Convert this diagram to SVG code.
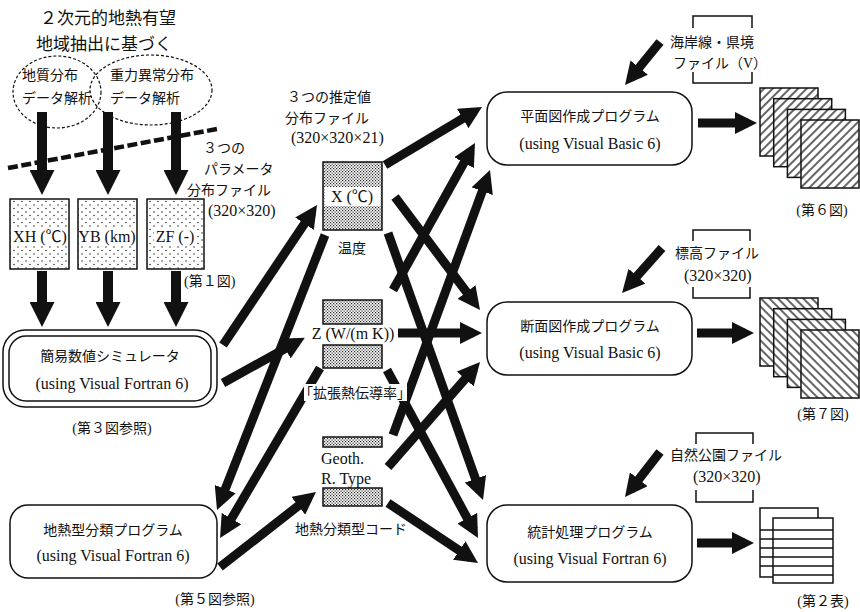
<svg xmlns="http://www.w3.org/2000/svg" width="860" height="612" viewBox="0 0 860 612">
<defs>
<style>
.t{font-family:"Liberation Serif","Noto Sans CJK JP",serif;font-size:14px;fill:#111}
.g{font-family:"Noto Sans CJK JP","Liberation Sans",sans-serif;font-size:17px;fill:#111}
.s{font-family:"Liberation Serif","Noto Sans CJK JP",serif;font-size:16px;fill:#111}
.m{text-anchor:middle}
.box{fill:#fff;stroke:#111;stroke-width:1.5}
.ar{stroke:#111;fill:none;marker-end:url(#ah)}
.a9{stroke-width:9}
.a10{stroke-width:10}
.dash{fill:none;stroke:#111;stroke-width:1.2;stroke-dasharray:3 2}
.br{fill:none;stroke:#111;stroke-width:1.5}
</style>
<marker id="ah" viewBox="0 0 10 10" refX="6" refY="5" markerWidth="2.5" markerHeight="2.5" orient="auto"><path d="M0,0L10,5L0,10z" fill="#111"/></marker>
<pattern id="sparse" width="8" height="7" patternUnits="userSpaceOnUse"><circle cx="2" cy="2" r="0.75" fill="#222"/><circle cx="6" cy="5.5" r="0.75" fill="#222"/></pattern>
<pattern id="dense" width="3" height="3" patternUnits="userSpaceOnUse"><rect width="1.2" height="1.2" fill="#222"/><rect x="1.5" y="1.5" width="1.2" height="1.2" fill="#222"/></pattern>
<pattern id="hatchF" width="6" height="6" patternUnits="userSpaceOnUse" patternTransform="rotate(45)"><rect width="6" height="6" fill="#fff"/><line x1="3" y1="0" x2="3" y2="6" stroke="#111" stroke-width="1.3"/></pattern>
<pattern id="hatchB" width="6" height="6" patternUnits="userSpaceOnUse" patternTransform="rotate(-45)"><rect width="6" height="6" fill="#fff"/><line x1="3" y1="0" x2="3" y2="6" stroke="#111" stroke-width="1.3"/></pattern>
</defs>
<rect width="860" height="612" fill="#fff"/>

<g id="source-analysis">
<text class="g m" x="108" y="24">２次元的地熱有望</text>
<text class="g m" x="104" y="50">地域抽出に基づく</text>
<ellipse class="dash" cx="57" cy="92" rx="44" ry="36"/>
<ellipse class="dash" cx="151" cy="90" rx="61" ry="35"/>
<text class="t" x="22" y="80">地質分布</text>
<text class="t" x="22" y="103">データ解析</text>
<text class="t" x="110" y="80">重力異常分布</text>
<text class="t" x="110" y="103">データ解析</text>
</g>

<g id="divider">
<line x1="8" y1="168" x2="217" y2="129" stroke="#111" stroke-width="4.5" stroke-dasharray="10 3.5"/>
</g>

<g id="connectors">
<line class="ar a10" x1="42" y1="112" x2="42" y2="185"/>
<line class="ar a10" x1="108" y1="112" x2="108" y2="185"/>
<line class="ar a10" x1="176" y1="112" x2="176" y2="185"/>
<line class="ar a10" x1="42" y1="271" x2="42" y2="317"/>
<line class="ar a10" x1="108" y1="271" x2="108" y2="317"/>
<line class="ar a10" x1="176" y1="271" x2="176" y2="317"/>
<line class="ar a9" x1="223" y1="345" x2="312" y2="212.5"/>
<line class="ar a9" x1="223" y1="383" x2="297" y2="342"/>
<line class="ar a9" x1="325" y1="235" x2="220.3" y2="501.6"/>
<line class="ar a9" x1="320" y1="368" x2="224.6" y2="530.3"/>
<line class="ar a9" x1="220" y1="567" x2="308.9" y2="497.5"/>
<line class="ar a9" x1="385" y1="165" x2="474.3" y2="111.6"/>
<line class="ar a9" x1="395" y1="197" x2="474.6" y2="302.8"/>
<line class="ar a9" x1="388" y1="233" x2="480" y2="491.5"/>
<line class="ar a9" x1="393" y1="290" x2="470.6" y2="150.9"/>
<line class="ar a9" x1="398" y1="333" x2="473" y2="333"/>
<line class="ar a9" x1="387" y1="370" x2="473.7" y2="530.1"/>
<line class="ar a9" x1="393" y1="435" x2="486.9" y2="178.5"/>
<line class="ar a9" x1="388" y1="467" x2="474.1" y2="368.8"/>
<line class="ar a9" x1="388" y1="503" x2="470.5" y2="558"/>
<line class="ar a9" x1="698" y1="123" x2="748" y2="123"/>
<line class="ar a9" x1="697" y1="333" x2="745" y2="333"/>
<line class="ar a9" x1="697" y1="543" x2="745" y2="543"/>
<line class="ar a9" x1="660" y1="42" x2="630.7" y2="78"/>
<line class="ar a9" x1="662" y1="248" x2="628" y2="286.3"/>
<line class="ar a9" x1="660" y1="452" x2="630.5" y2="489.9"/>
</g>

<g id="param-label">
<text class="t" x="203" y="153">３つの</text>
<text class="t" x="204" y="174">パラメータ</text>
<text class="t" x="187" y="195">分布ファイル</text>
<text class="s" x="208" y="216">(320×320)</text>
</g>

<g id="file-XH">
<rect x="10" y="199" width="59" height="70" fill="url(#sparse)" stroke="#111" stroke-width="1.5"/>
<rect x="11" y="227" width="57" height="19" fill="#fff"/>
<text class="s m" x="40" y="242">XH (℃)</text>
</g>
<g id="file-YB">
<rect x="78" y="199" width="59" height="70" fill="url(#sparse)" stroke="#111" stroke-width="1.5"/>
<rect x="79" y="227" width="57" height="19" fill="#fff"/>
<text class="s m" x="107" y="242">YB (km)</text>
</g>
<g id="file-ZF">
<rect x="147" y="199" width="57" height="70" fill="url(#sparse)" stroke="#111" stroke-width="1.5"/>
<rect x="154" y="227" width="43" height="19" fill="#fff"/>
<text class="s m" x="175" y="242">ZF (-)</text>
<text class="t" x="184" y="286">(第１図)</text>
</g>

<g id="simulator">
<rect class="box" x="3" y="330" width="214" height="77" rx="22"/>
<rect class="box" x="9" y="336" width="202" height="65" rx="17"/>
<text class="t m" x="110" y="361">簡易数値シミュレータ</text>
<text class="s m" x="112" y="389">(using Visual Fortran 6)</text>
<text class="t m" x="112" y="433">(第３図参照)</text>
</g>

<g id="classifier">
<rect class="box" x="10" y="505" width="207" height="73" rx="18"/>
<text class="t m" x="113" y="535">地熱型分類プログラム</text>
<text class="s m" x="113" y="561">(using Visual Fortran 6)</text>
<text class="t m" x="215" y="604">(第５図参照)</text>
</g>

<g id="estimate-label">
<text class="t" x="287" y="102">３つの推定値</text>
<text class="t" x="285" y="123">分布ファイル</text>
<text class="s" x="291" y="143">(320×320×21)</text>
</g>

<g id="file-X">
<rect x="323" y="162" width="59" height="68" fill="url(#dense)" stroke="#111" stroke-width="1.5"/>
<rect x="324.5" y="187" width="56" height="19" fill="#fff"/>
<text class="s m" x="352" y="202">X (℃)</text>
<text class="t m" x="352" y="253">温度</text>
</g>

<g id="file-Z">
<rect x="323" y="300" width="59" height="24" fill="url(#dense)" stroke="#111" stroke-width="1.5"/>
<rect x="323" y="345" width="59" height="23" fill="url(#dense)" stroke="#111" stroke-width="1.5"/>
<text class="s m" x="353" y="339">Z (W/(m K))</text>
<rect x="304" y="384" width="103" height="17" fill="#fff"/>
<text class="t m" x="355" y="398">「拡張熱伝導率」</text>
</g>

<g id="file-Geoth">
<rect x="323" y="437" width="59" height="10" fill="url(#dense)" stroke="#111" stroke-width="1.5"/>
<rect x="323" y="488" width="59" height="18" fill="url(#dense)" stroke="#111" stroke-width="1.5"/>
<text class="s" x="321" y="464">Geoth.</text>
<text class="s" x="321" y="484">R. Type</text>
<text class="t m" x="351" y="534">地熱分類型コード</text>
</g>

<g id="plan-program">
<rect class="box" x="487" y="92" width="205" height="73" rx="20"/>
<text class="t m" x="590" y="121">平面図作成プログラム</text>
<text class="s m" x="590" y="149">(using Visual Basic 6)</text>
</g>
<g id="section-program">
<rect class="box" x="487" y="302" width="205" height="73" rx="20"/>
<text class="t m" x="590" y="331">断面図作成プログラム</text>
<text class="s m" x="590" y="358">(using Visual Basic 6)</text>
</g>
<g id="stats-program">
<rect class="box" x="487" y="505" width="205" height="77" rx="20"/>
<text class="t m" x="590" y="537">統計処理プログラム</text>
<text class="s m" x="590" y="564">(using Visual Fortran 6)</text>
</g>

<g id="coast-file">
<path class="br" d="M693,28V16H752V28M693,72V83H752V72"/>
<text class="t" x="670" y="47">海岸線・県境</text>
<text class="t" x="673" y="68">ファイル（V）</text>
</g>
<g id="elev-file">
<path class="br" d="M693,241V230H750V241M693,287V298H750V287"/>
<text class="t" x="675" y="258">標高ファイル</text>
<text class="s" x="684" y="281">(320×320)</text>
</g>
<g id="park-file">
<path class="br" d="M696,444V433H753V444M696,490V502H753V490"/>
<text class="t" x="670" y="460">自然公園ファイル</text>
<text class="s" x="693" y="482">(320×320)</text>
</g>

<g id="fig6">
<rect x="760" y="88" width="58" height="68" fill="url(#hatchF)" stroke="#111" stroke-width="1.5"/>
<rect x="773.7" y="98.7" width="58" height="68" fill="url(#hatchF)" stroke="#111" stroke-width="1.5"/>
<rect x="787.4" y="109.4" width="58" height="68" fill="url(#hatchF)" stroke="#111" stroke-width="1.5"/>
<rect x="801" y="120" width="58" height="68" fill="url(#hatchF)" stroke="#111" stroke-width="1.5"/>
<text class="t m" x="822" y="215">(第６図)</text>
</g>
<g id="fig7">
<rect x="760" y="298" width="58" height="68" fill="url(#hatchB)" stroke="#111" stroke-width="1.5"/>
<rect x="773.7" y="308.7" width="58" height="68" fill="url(#hatchB)" stroke="#111" stroke-width="1.5"/>
<rect x="787.4" y="319.4" width="58" height="68" fill="url(#hatchB)" stroke="#111" stroke-width="1.5"/>
<rect x="801" y="330" width="58" height="68" fill="url(#hatchB)" stroke="#111" stroke-width="1.5"/>
<text class="t m" x="823" y="419">(第７図)</text>
</g>
<g id="table2">
<rect x="760" y="508" width="58" height="69" fill="#fff" stroke="#111" stroke-width="1.5"/>
<rect x="773" y="518" width="60" height="65" fill="#fff" stroke="#111" stroke-width="1.5"/>
<g stroke="#111" stroke-width="1.5">
<line x1="760" y1="530" x2="833" y2="530"/>
<line x1="760" y1="539" x2="833" y2="539"/>
<line x1="760" y1="548" x2="833" y2="548"/>
<line x1="760" y1="557" x2="833" y2="557"/>
<line x1="760" y1="566" x2="833" y2="566"/>
<line x1="773" y1="575" x2="833" y2="575"/>
</g>
<text class="t m" x="823" y="606">(第２表)</text>
</g>
</svg>
